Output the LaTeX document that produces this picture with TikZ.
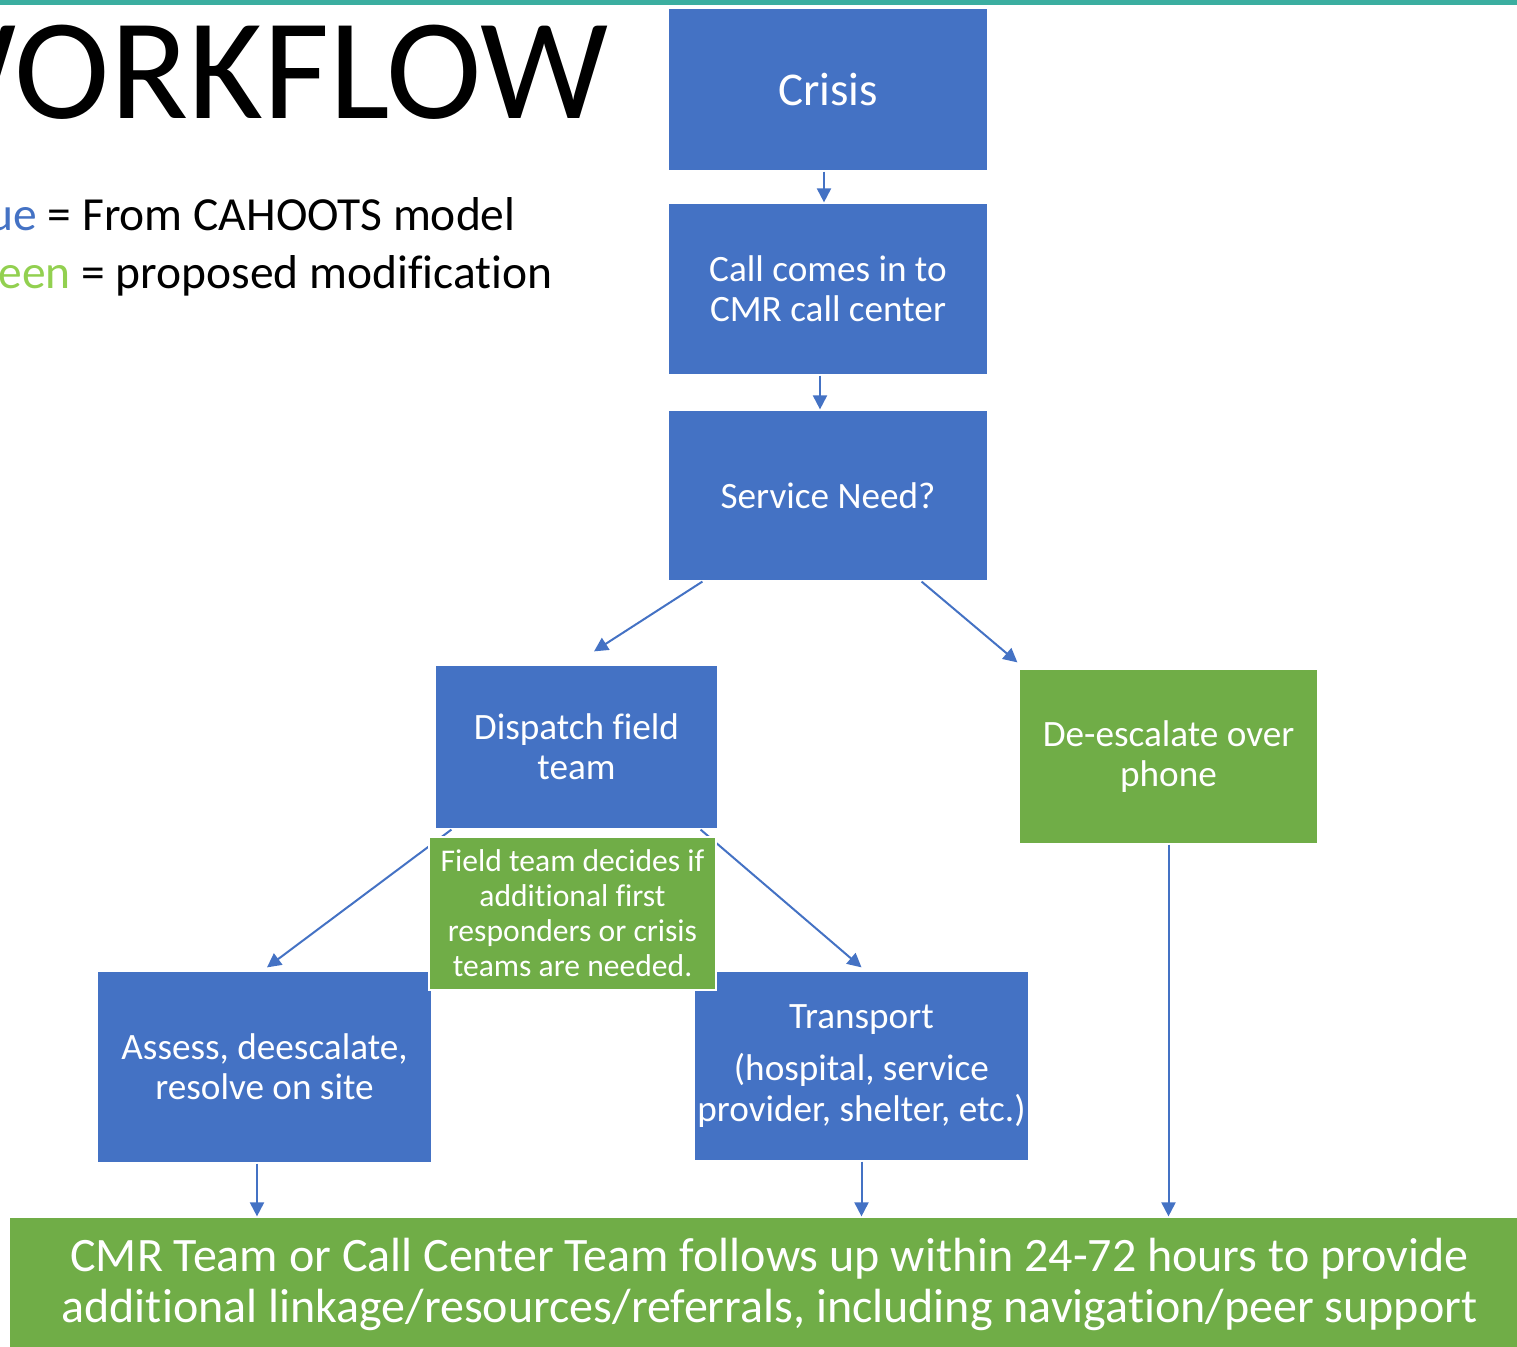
\documentclass[tikz,border=0pt]{standalone}
\usepackage{fontspec}
\setmainfont{Carlito}[Ligatures=NoCommon]
\usetikzlibrary{arrows.meta}
\definecolor{cmrblue}{HTML}{4472C4}
\definecolor{cmrgreen}{HTML}{70AD47}
\definecolor{cmrlime}{HTML}{92D050}
\definecolor{cmrteal}{HTML}{3BAEA0}

\begin{document}
\begin{tikzpicture}[x=0.5pt, y=-0.5pt,
  box/.style={rectangle, draw=white, line width=0.6pt, text=white, align=center,
    inner sep=0pt, font=\fontsize{18.6}{20.2}\selectfont},
  bluebox/.style={box, fill=cmrblue},
  greenbox/.style={box, fill=cmrgreen},
  flow/.style={cmrblue, line width=1pt, -{Triangle[length=7pt, width=7pt]}}]
  \useasboundingbox (0,0) rectangle (1517,1347);
  \clip (0,0) rectangle (1517,1347);
  \fill[cmrteal] (0,0) rectangle (1517,5);
  % title and colour key
  \node[anchor=base east, inner sep=0pt, font=\fontsize{72}{80}\selectfont] (title) at (609,119) {WORKFLOW};
  \node[anchor=base east, inner sep=0pt, font=\fontsize{23.75}{28}\selectfont] (keyblue) at (516,231)
    {\textcolor{cmrblue}{Blue} = From CAHOOTS model};
  \node[anchor=base east, inner sep=0pt, font=\fontsize{23.75}{28}\selectfont] (keygreen) at (553,289)
    {\textcolor{cmrlime}{Green} = proposed modification};
  % flow boxes
  \node[bluebox, minimum width=160pt, minimum height=81.5pt, font=\fontsize{23.5}{28}\selectfont] (crisis) at (828,89.5) {Crisis};
  \node[bluebox, minimum width=160pt, minimum height=86pt] (call) at (828,289) {Call comes in to\\CMR call center};
  \node[bluebox, minimum width=160pt, minimum height=85.5pt] (need) at (828,495.5) {Service Need?};
  \node[bluebox, minimum width=141.5pt, minimum height=82pt] (dispatch) at (576.5,747) {Dispatch field\\team};
  \node[greenbox, minimum width=149.5pt, minimum height=87.5pt] (phone) at (1168.5,756.5) {De-escalate over\\phone};
  \node[bluebox, minimum width=167.5pt, minimum height=96pt] (assess) at (264.5,1067) {Assess, deescalate,\\resolve on site};
  \node[bluebox, minimum width=167.5pt, minimum height=95pt] (transport) at (861.5,1066)
    {\raisebox{-2pt}{Transport}\\[8pt](hospital, service\\provider, shelter, etc.)};
  \node[greenbox, minimum width=760.5pt, minimum height=67.5pt, font=\fontsize{24}{25.5}\selectfont] (followup) at (769.5,1284.5)
    {CMR Team or Call Center Team follows up within 24-72 hours to provide\\additional linkage/resources/referrals, including navigation/peer support};
  % connectors
  \draw[flow] ([xshift=-2pt]crisis.south) -- ([xshift=-2pt]call.north);
  \draw[flow] ([xshift=-4pt]call.south) -- ([xshift=-4pt]need.north);
  \draw[flow] ([xshift=17.5pt]need.south west) -- ([xshift=8.75pt, yshift=6.5pt]dispatch.north);
  \draw[flow] ([xshift=-33.5pt]need.south east) -- ([xshift=-0.5pt, yshift=3pt]phone.north west);
  \draw[flow] ([xshift=8.5pt]dispatch.south west) -- ([xshift=1.25pt, yshift=1.5pt]assess.north);
  \draw[flow] ([xshift=-9pt]dispatch.south east) -- ([yshift=1.5pt]transport.north);
  \draw[flow] ([xshift=-3.75pt]assess.south) -- ([xshift=-3.75pt]assess.south |- followup.north);
  \draw[flow] (transport.south) -- (transport.south |- followup.north);
  \draw[flow] (phone.south) -- (phone.south |- followup.north);
  % note over the two lower connectors
  \node[greenbox, minimum width=143.5pt, minimum height=76.5pt, font=\fontsize{15.8}{17.5}\selectfont] (decide) at (572.5,913.5)
    {Field team decides if\\additional first\\responders or crisis\\teams are needed.};
\end{tikzpicture}
\end{document}
